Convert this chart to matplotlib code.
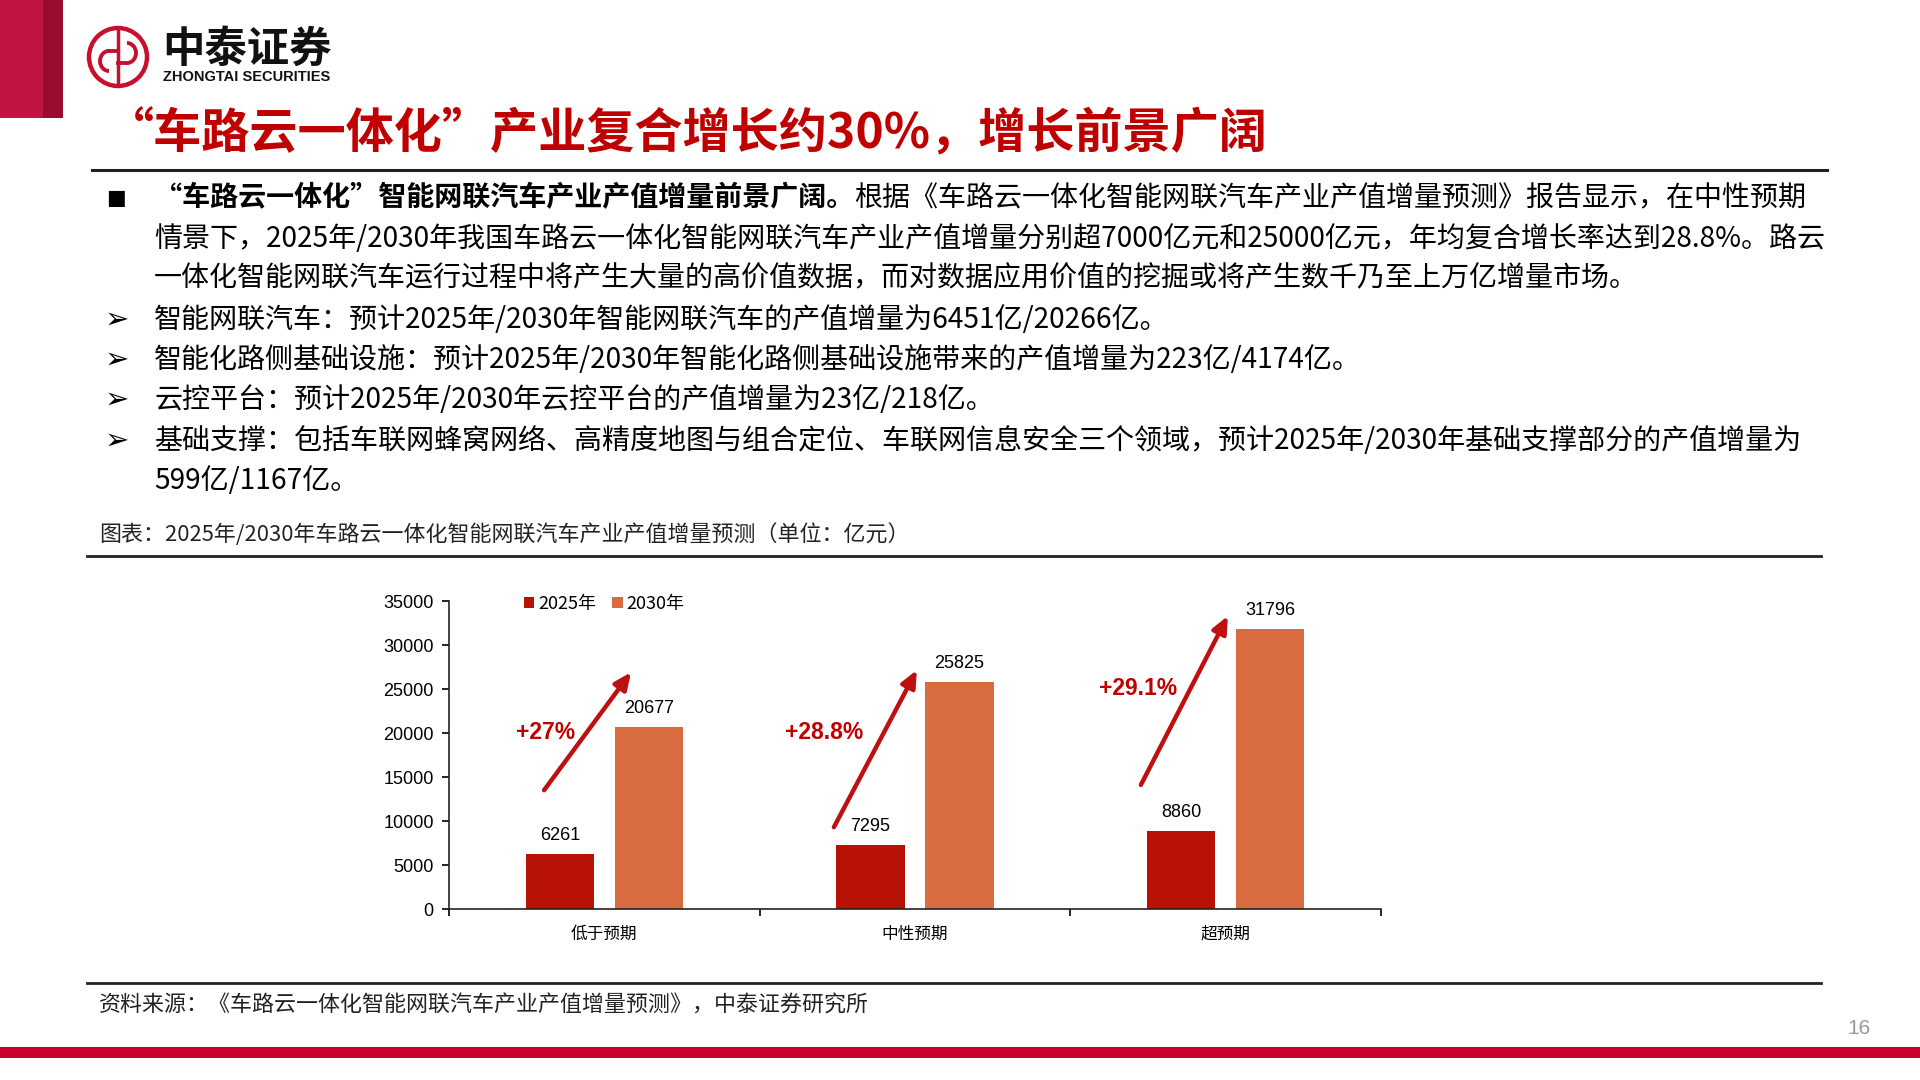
import matplotlib
matplotlib.use('Agg')
import matplotlib.pyplot as plt
from matplotlib.patches import Rectangle, Circle, Arc
import numpy as np

CJK = ['Noto Sans CJK SC', 'DejaVu Sans']
LAT = ['Liberation Sans', 'DejaVu Sans']
plt.rcParams['font.family'] = CJK

# ---- data ----
categories = ['低于预期', '中性预期', '超预期']
years = ['2025年', '2030年']
val_2025 = [6261, 7295, 8860]
val_2030 = [20677, 25825, 31796]
growth = ['+27%', '+28.8%', '+29.1%']

title = '“车路云一体化”产业复合增长约30%，增长前景广阔'
lead_bold = '“车路云一体化”智能网联汽车产业产值增量前景广阔。'
lead_rest = '根据《车路云一体化智能网联汽车产业产值增量预测》报告显示，在中性预期'
lead_lines = ['情景下，2025年/2030年我国车路云一体化智能网联汽车产业产值增量分别超7000亿元和25000亿元，年均复合增长率达到28.8%。路云',
              '一体化智能网联汽车运行过程中将产生大量的高价值数据，而对数据应用价值的挖掘或将产生数千乃至上万亿增量市场。']
points = ['智能网联汽车：预计2025年/2030年智能网联汽车的产值增量为6451亿/20266亿。',
          '智能化路侧基础设施：预计2025年/2030年智能化路侧基础设施带来的产值增量为223亿/4174亿。',
          '云控平台：预计2025年/2030年云控平台的产值增量为23亿/218亿。',
          '基础支撑：包括车联网蜂窝网络、高精度地图与组合定位、车联网信息安全三个领域，预计2025年/2030年基础支撑部分的产值增量为']
points_tail = '599亿/1167亿。'
caption = '图表：2025年/2030年车路云一体化智能网联汽车产业产值增量预测（单位：亿元）'
source = '资料来源：《车路云一体化智能网联汽车产业产值增量预测》，中泰证券研究所'

RED = '#C00000'
C2025 = '#B81207'
C2030 = '#D86C40'

fig = plt.figure(figsize=(19.2, 10.8), dpi=100)

# background layer in pixel coords
bg = fig.add_axes([0, 0, 1, 1])
bg.set_xlim(0, 1920)
bg.set_ylim(1080, 0)
bg.axis('off')

# header block + logo
bg.add_patch(Rectangle((0, 0), 43, 118, color='#C01541', lw=0))
bg.add_patch(Rectangle((43, 0), 20, 118, color='#9B0B2E', lw=0))
bg.add_patch(Circle((118, 57), 29, fill=False, ec='#C8102E', lw=3.2))
bg.plot([118, 118], [29, 85], color='#C8102E', lw=2.5)
bg.add_patch(Arc((109, 61), 18, 20, theta1=90, theta2=270, color='#C8102E', lw=2.8))
bg.add_patch(Arc((127, 53), 18, 20, theta1=-90, theta2=90, color='#C8102E', lw=2.8))
bg.plot([109, 118], [51, 51], color='#C8102E', lw=2.8)
bg.plot([118, 127], [63, 63], color='#C8102E', lw=2.8)
bg.text(162, 50, '中泰证券', fontsize=30.5, fontweight='bold', va='center', ha='left', color='#111111')
bg.text(163, 77, 'ZHONGTAI SECURITIES', fontsize=10.5, fontweight='bold', va='center', ha='left',
        color='#111111', family=LAT)

# title
bg.text(106, 134, title, fontsize=34.7, fontweight='bold', color=RED, va='center', ha='left')
bg.plot([92, 1827], [170, 170], color='#222222', lw=2.2)

# body text
fs = 20.2
ys = [198, 239, 278, 320, 360, 400, 441, 481]
x0 = 154
bg.text(116, ys[0], '■', fontsize=15, va='center', ha='center', color='black', family=['DejaVu Sans'])
t1 = bg.text(x0, ys[0], lead_bold, fontsize=fs, fontweight='bold', va='center', ha='left')
fig.canvas.draw()
bb = t1.get_window_extent()
bg.text(bb.x1, ys[0], lead_rest, fontsize=fs, va='center', ha='left')
for y, s in zip(ys[1:3], lead_lines):
    bg.text(x0, y, s, fontsize=fs, va='center', ha='left')
for y, s in zip(ys[3:7], points):
    bg.text(117, y, '➢', fontsize=21, va='center', ha='center', family=['DejaVu Sans'])
    bg.text(x0, y, s, fontsize=fs, va='center', ha='left')
bg.text(x0, ys[7], points_tail, fontsize=fs, va='center', ha='left')

# caption and separators
bg.text(99, 535, caption, fontsize=15.8, va='center', ha='left', color='#222222')
bg.plot([87, 1821], [556, 556], color='#222222', lw=2)
bg.plot([87, 1821], [983, 983], color='#222222', lw=2)
bg.text(99, 1006, source, fontsize=15.8, va='center', ha='left', color='#222222')

# footer
bg.add_patch(Rectangle((0, 1047), 1920, 11, color='#C8002B', lw=0))
bg.text(1859, 1029, '16', fontsize=15, va='center', ha='center', color='#999999', family=LAT)

# ---- chart ----
ax = fig.add_axes([449 / 1920, 1 - 909 / 1080, (1381 - 449) / 1920, (909 - 601) / 1080])
x = np.arange(len(categories))
w = 0.22
off = 0.143
b1 = ax.bar(x - off, val_2025, w, color=C2025, label=years[0])
b2 = ax.bar(x + off, val_2030, w, color=C2030, label=years[1])

for bars in (b1, b2):
    for r in bars:
        ax.annotate(f'{int(r.get_height())}', (r.get_x() + r.get_width() / 2, r.get_height()),
                    xytext=(0, 7), textcoords='offset points', ha='center', va='bottom',
                    fontsize=13, family=LAT)

# growth arrows (layout offsets relative to each category centre)
arrow_tail = [(-0.194, 13500), (-0.261, 9300), (-0.273, 14100)]
arrow_head = [(0.086, 26900), (0.006, 27150), (0.007, 33300)]
label_pos = [(-0.188, 20100), (-0.293, 20100), (-0.282, 25100)]
for i in range(len(categories)):
    ax.annotate('', xy=(i + arrow_head[i][0], arrow_head[i][1]),
                xytext=(i + arrow_tail[i][0], arrow_tail[i][1]),
                arrowprops=dict(arrowstyle='-|>,head_length=1.0,head_width=0.45',
                                color='#BE1010', lw=3.2, shrinkA=0, shrinkB=0))
    ax.text(i + label_pos[i][0], label_pos[i][1], growth[i], fontsize=16.5, fontweight='bold',
            color=RED, ha='center', va='center', family=LAT)

ax.set_xlim(-0.5, 2.5)
ax.set_ylim(0, 35000)
ax.set_yticks(np.arange(0, 35001, 5000))
ax.set_xticks(x)
ax.set_xticklabels(categories, fontsize=12)
ax.set_xticks([-0.5, 0.5, 1.5, 2.5], minor=True)
ax.tick_params(axis='x', which='major', length=0, pad=12)
ax.tick_params(axis='x', which='minor', length=5, width=1.2, direction='out')
ax.tick_params(axis='y', length=5, width=1.2, direction='out', labelsize=13, pad=6)
for lbl in ax.get_yticklabels():
    lbl.set_family(LAT)
for s in ['top', 'right']:
    ax.spines[s].set_visible(False)
for s in ['left', 'bottom']:
    ax.spines[s].set_linewidth(1.2)
    ax.spines[s].set_color('#222222')

ax.legend(loc='center left', bbox_to_anchor=(0.08, 0.99), ncol=2, frameon=False, fontsize=13,
          handlelength=0.6, handleheight=0.6, handletextpad=0.2, columnspacing=0.9,
          borderpad=0, borderaxespad=0)

fig.savefig('out.png', dpi=100)
